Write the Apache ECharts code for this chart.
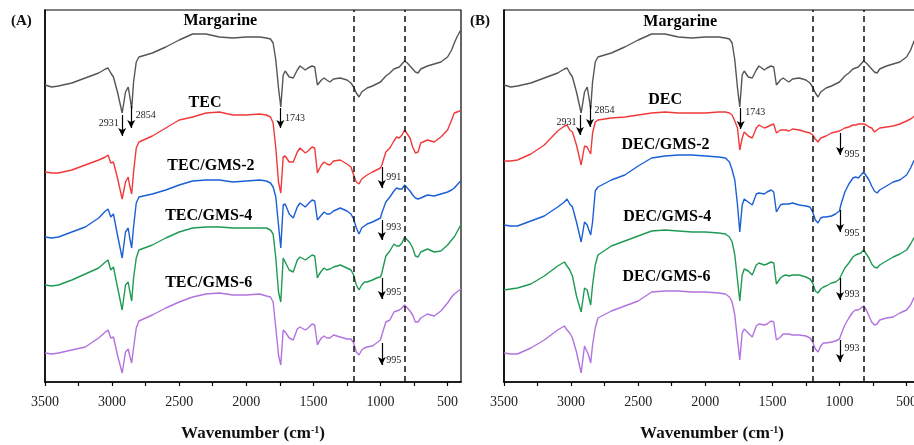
<!DOCTYPE html>
<html><head><meta charset="utf-8">
<script src="https://cdn.jsdelivr.net/npm/echarts@6/dist/echarts.min.js"></script>
<style>html,body{margin:0;padding:0;background:#fff}#c{width:914px;height:445px}</style>
</head><body><div id="c"></div>
<script>
// ---- data (intensity in arbitrary offset units) ----
const wavenumbers = [3500,3450,3400,3300,3200,3100,3050,3030,3010,2990,
 2960,2925,2900,2880,2870,2854,2840,2820,2800,2700,
 2600,2500,2400,2300,2200,2100,2000,1900,1850,1820,
 1800,1780,1760,1743,1725,1710,1680,1650,1620,1600,
 1560,1540,1510,1490,1470,1460,1440,1420,1400,1377,
 1350,1300,1250,1220,1200,1180,1160,1140,1120,1100,
 1060,1030,1000,990,960,930,900,880,860,840,
 820,800,780,760,740,720,700,650,600,550,
 500,470,450,430,410,400];

const margarine = [297,295,296,299,304,309,313,314,309,305,
 290,269,290,295,287,273,300,320,325,329,
 335,342,348,348,345,344,345,345,344,343,
 339,322,294,275,307,311,305,304,312,316,
 312,314,316,315,297,299,302,304,302,300,
 303,304,302,299,295,289,285,290,292,294,
 296,298,300,301,306,309,313,314,315,318,
 321,319,316,313,310,309,313,316,318,320,
 325,332,339,345,350,352];

const tec = [210,209,209,212,217,222,225,227,219,220,
 204,183,200,205,197,188,210,234,240,246,
 254,262,265,269,270,267,267,268,267,265,
 259,234,200,189,225,226,220,220,230,234,
 229,231,235,234,209,212,217,220,218,217,
 221,222,218,215,207,200,198,203,205,207,
 210,212,214,217,230,234,241,245,244,247,
 252,248,244,235,229,230,239,242,240,245,
 252,262,269,270,271,271];

const tecGms2 = [145,144,145,150,155,164,171,173,165,168,
 147,124,150,154,145,134,155,179,185,188,
 192,197,201,202,202,200,201,202,201,199,
 195,185,157,134,177,178,168,164,175,179,
 175,178,182,181,162,163,167,170,168,168,
 171,174,171,168,163,154,148,154,156,158,
 160,162,164,169,180,185,191,194,193,193,
 197,194,191,187,184,183,184,187,186,188,
 190,192,194,197,200,201];

const tecGms4 = [97,96,97,102,108,114,120,122,112,115,
 95,72,97,100,92,81,104,124,132,137,
 144,150,154,155,155,154,154,154,154,152,
 148,124,90,80,124,120,112,110,122,125,
 122,124,127,126,104,107,111,114,112,113,
 115,117,114,112,107,97,92,97,100,100,
 102,104,105,109,126,131,138,136,136,139,
 145,142,139,134,126,125,130,133,130,131,
 137,142,145,150,155,157];

const tecGms6 = [29,28,29,32,35,44,50,52,44,45,
 27,9,30,33,27,19,34,54,61,67,
 74,80,85,88,89,87,87,88,86,85,
 80,54,27,17,52,50,44,42,53,55,
 52,54,58,57,37,40,44,46,44,44,
 47,45,43,43,39,30,27,32,34,35,
 36,39,42,47,60,62,70,71,72,74,
 77,74,71,67,60,60,64,68,66,71,
 79,85,88,90,92,93];

const dec = [221,221,222,228,237,251,256,257,252,250,
 237,217,236,235,232,228,249,260,262,264,
 265,267,269,270,269,269,269,270,270,269,
 267,261,254,232,244,250,246,244,254,257,
 254,255,257,258,249,250,252,252,252,251,
 253,252,250,249,247,243,240,244,245,246,
 249,250,251,252,254,255,257,257,258,258,
 258,257,255,254,250,252,254,255,256,258,
 261,263,265,267,269,270];

const decGms2 = [157,156,156,161,166,175,180,183,178,175,
 160,140,160,157,153,147,160,191,195,202,
 207,216,224,226,227,227,226,225,224,220,
 212,202,177,150,177,183,180,177,188,189,
 188,190,192,190,170,172,177,178,178,178,
 179,177,176,175,170,162,159,164,165,165,
 166,168,171,177,190,198,204,205,204,207,
 210,206,202,196,191,189,192,196,200,202,
 207,214,220,224,227,229];

const decGms4 = [92,93,94,98,106,116,120,116,112,106,
 86,70,94,92,86,77,97,117,127,136,
 141,146,151,152,151,150,150,149,148,145,
 140,127,102,81,107,113,111,107,117,119,
 117,118,120,119,98,99,104,106,107,106,
 107,107,105,103,99,91,89,93,95,96,
 99,100,103,106,114,119,125,127,128,129,
 132,128,124,118,115,114,117,121,125,128,
 132,138,143,147,150,152];

const decGms6 = [29,28,28,34,42,52,56,52,49,44,
 30,9,36,30,27,19,37,54,64,71,
 76,81,90,91,91,90,90,89,88,85,
 80,67,42,22,49,53,49,45,56,58,
 57,58,61,60,42,40,45,48,48,48,
 47,47,46,44,40,33,30,36,39,39,
 40,41,43,47,57,64,70,72,72,74,
 76,72,66,60,57,58,62,64,65,69,
 72,77,83,87,90,92];

const tickLabels = [3500,3000,2500,2000,1500,1000,500];
const tickMarks = [3500,3250,3000,2750,2500,2250,2000,1750,1500,1250,1000,750,500];
const dashedLines = [1200, 820];

const seriesNamesA = ['Margarine','TEC','TEC/GMS-2','TEC/GMS-4','TEC/GMS-6'];
const seriesNamesB = ['Margarine','DEC','DEC/GMS-2','DEC/GMS-4','DEC/GMS-6'];
// name label anchors [wavenumber, intensity]
const nameAnchorsA = [[2190,361],[2304,279],[2260,216],[2276,166],[2276,99]];
const nameAnchorsB = [[2183,360],[2295,282],[2293,237],[2280,165],[2285,105]];

// arrows: [wavenumber, from, to]
const arrowsA = [[2925,267,246],[2858,276,254],[1746,274,254],[990,215,194],[990,162,142],[990,104,83],[990,39,17]];
const arrowsB = [[2934,267,247],[2859,277,255],[1736,274,253],[996,249,227],[996,172,150],[996,104,82],[996,42,20]];
const arrowTextA = ['2931','2854','1743','991','993','995','995'];
const arrowTextB = ['2931','2854','1743','995','995','993','993'];
const arrowTextAnchorA = [[2925,259],[2858,267],[1746,264],[990,205],[990,155],[990,90],[990,22]];
const arrowTextAnchorB = [[2934,260],[2859,272],[1736,270],[996,228],[996,149],[996,88],[996,34]];

// ---- chart ----
const colors = ['#555555','#f03a3a','#1b5fd6','#1f9a55','#b273df'];
const serif = 'Liberation Serif';

function pairs(ys){ return wavenumbers.map((w,i)=>[w, ys[i]]); }

function makeX(gi){
  return {
    gridIndex: gi, type:'value', min:400, max:3500, inverse:true,
    axisLine:{show:true, lineStyle:{color:'#000', width:1.5}},
    axisTick:{show:true, inside:false, length:4, customValues: tickMarks, lineStyle:{color:'#000', width:1.2}},
    axisLabel:{customValues: tickLabels, formatter: v => String(v), fontFamily: serif, fontSize:14, color:'#222', margin:13},
    splitLine:{show:false},
    name:'{b|Wavenumber (cm}{s|-1}{b|)}', nameLocation:'middle', nameGap:43,
    nameTextStyle:{rich:{
      b:{fontFamily: serif, fontWeight:'bold', fontSize:17, color:'#111'},
      s:{fontFamily: serif, fontWeight:'bold', fontSize:10, color:'#111', verticalAlign:'top'}
    }}
  };
}
function makeY(gi){
  return {gridIndex: gi, type:'value', min:0, max:372, axisLine:{show:true, lineStyle:{color:'#000', width:1.5}},
    axisTick:{show:false}, axisLabel:{show:false}, splitLine:{show:false}};
}

function panelSeries(gi, arrays, names, anchors, arrows, arrowText, arrowAnchors){
  const out = [];
  arrays.forEach((ys, k) => {
    const s = {
      type:'line', xAxisIndex: gi, yAxisIndex: gi, data: pairs(ys), showSymbol:false, symbol:'none',
      lineStyle:{color: colors[k], width:1.4}, animation:false, silent:true, z:3
    };
    if (k === 0) {
      s.markLine = {silent:true, symbol:['none','none'], animation:false,
        lineStyle:{color:'#111', type:[6,4], width:1.5}, label:{show:false},
        data: dashedLines.map(v => ({xAxis: v}))};
    }
    if (k === 1) {
      s.markLine = {silent:true, animation:false, symbol:['none','triangle'], symbolSize:7, symbolRotate:180,
        itemStyle:{color:'#000'},
        lineStyle:{color:'#000', type:'solid', width:1.2}, label:{show:false},
        data: arrows.map(a => [{coord:[a[0], a[1]]}, {coord:[a[0], a[2]], symbol:'arrow', symbolSize:[6,8]}])};
    }
    out.push(s);
  });
  // series name labels
  out.push({
    type:'scatter', xAxisIndex: gi, yAxisIndex: gi, symbolSize:1, itemStyle:{opacity:0}, silent:true, animation:false, z:5,
    data: anchors.map((a,i) => ({value:[a[0], a[1]], name: names[i]})),
    label:{show:true, position:[0,0], align:'center', verticalAlign:'middle', formatter: p => p.name,
      fontFamily: serif, fontWeight:'bold', fontSize:16, color:'#000', opacity:1}
  });
  // peak number labels
  out.push({
    type:'scatter', xAxisIndex: gi, yAxisIndex: gi, symbolSize:1, itemStyle:{opacity:0}, silent:true, animation:false, z:5,
    data: arrowAnchors.map((a,i) => ({value:[a[0], a[1]], name: arrowText[i],
      label:{position: i === 0 ? 'left' : 'right', distance: i === 0 ? 3 : 4}})),
    label:{show:true, formatter: p => p.name, fontFamily: serif, fontSize:10, color:'#222', opacity:1}
  });
  return out;
}

const chart = echarts.init(document.getElementById('c'), null, {renderer:'canvas'});
chart.setOption({
  backgroundColor:'#fff',
  animation:false,
  grid:[
    {left:45, top:10, width:416, height:372, show:true, borderColor:'#000', borderWidth:1.2, outerBoundsMode:'none', containLabel:false},
    {left:504, top:10, right:-6, height:372, show:true, borderColor:'#000', borderWidth:1.2, outerBoundsMode:'none', containLabel:false}
  ],
  xAxis:[makeX(0), makeX(1)],
  yAxis:[makeY(0), makeY(1)],
  graphic:[
    {type:'text', left:11, top:14, style:{text:'(A)', font:'bold 15px "Liberation Serif"', fill:'#111'}},
    {type:'text', left:470, top:14, style:{text:'(B)', font:'bold 15px "Liberation Serif"', fill:'#111'}}
  ],
  series: [].concat(
    panelSeries(0, [margarine, tec, tecGms2, tecGms4, tecGms6], seriesNamesA, nameAnchorsA, arrowsA, arrowTextA, arrowTextAnchorA),
    panelSeries(1, [margarine, dec, decGms2, decGms4, decGms6], seriesNamesB, nameAnchorsB, arrowsB, arrowTextB, arrowTextAnchorB)
  )
});
</script></body></html>
